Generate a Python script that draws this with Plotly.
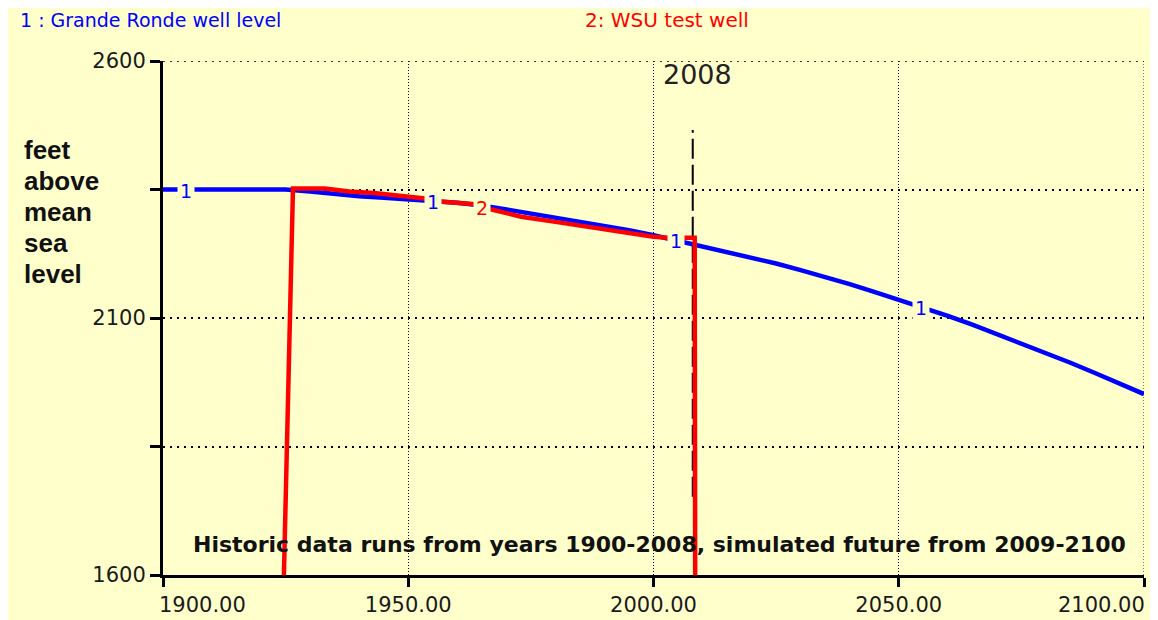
import numpy as np
import plotly.graph_objects as go

BG = "#FFFFCC"
BLUE = "#0000FF"
RED = "#FF0000"

# Series 1: Grande Ronde well level (historic 1900-2008, simulated 2009-2100)
blue_years = [1900, 1905, 1910, 1915, 1920, 1925, 1930, 1935, 1940, 1945, 1950,
              1955, 1960, 1965, 1970, 1975, 1980, 1985, 1990, 1995, 2000, 2005,
              2008, 2010, 2015, 2020, 2025, 2030, 2035, 2040, 2045, 2050, 2055,
              2060, 2065, 2070, 2075, 2080, 2085, 2090, 2095, 2100]
blue_levels = [2350, 2350, 2350, 2350, 2350, 2350, 2346, 2341, 2337, 2334, 2331,
               2327, 2324, 2319, 2311, 2304, 2296, 2288, 2280, 2271, 2261, 2250,
               2245, 2241, 2230, 2218, 2206, 2193, 2180, 2166, 2151, 2136, 2120,
               2104, 2087, 2069, 2051, 2033, 2013, 1993, 1973, 1952]

# Series 2: WSU test well (observed record only)
red_years = [1924.6, 1926.5, 1933, 1938, 1943, 1948, 1953, 1957, 1963, 1967,
             1973, 1980, 1986, 1993, 2000, 2003, 2008.4, 2008.5]
red_levels = [1580, 2352, 2352, 2346, 2343, 2339, 2333, 2326, 2322, 2311,
              2297, 2287, 2278, 2268, 2258, 2256, 2256, 1580]

blue_label_years = [1904.6, 1955.0, 2004.6, 2054.5]
red_label_years = [1965.0]

marker_year = 2008
marker_span = [1752, 2466]

x_range = [1900, 2100]
y_range = [1600, 2600]
x_tickvals = [1900, 1950, 2000, 2050, 2100]
x_ticktext = ["1900.00", "1950.00", "2000.00", "2050.00", "2100.00"]
y_tickvals = [1600, 1850, 2100, 2350, 2600]
y_ticktext = ["1600", "", "2100", "", "2600"]

y_title_lines = ["feet", "above", "mean", "sea", "level"]

FONT = "DejaVu Sans"
BOLD = "Liberation Sans"
TICKFONT = dict(family=FONT, size=21, color="#1a1a1a")

fig = go.Figure()

fig.add_trace(go.Scatter(x=[marker_year, marker_year], y=marker_span, mode="lines",
                         line=dict(color="black", width=2, dash="20px,6px"),
                         hoverinfo="skip", showlegend=False))
fig.add_trace(go.Scatter(x=blue_years, y=blue_levels, mode="lines",
                         line=dict(color=BLUE, width=4.5), name="Grande Ronde well level",
                         showlegend=False))
fig.add_trace(go.Scatter(x=red_years, y=red_levels, mode="lines",
                         line=dict(color=RED, width=4.5), name="WSU test well",
                         showlegend=False))

annotations = []
for yr in blue_label_years:
    annotations.append(dict(x=yr, y=float(np.interp(yr, blue_years, blue_levels)),
                            xref="x", yref="y", text="1", showarrow=False,
                            font=dict(family=FONT, size=19, color=BLUE),
                            bgcolor=BG, borderpad=2, yshift=-1))
for yr in red_label_years:
    annotations.append(dict(x=yr, y=float(np.interp(yr, red_years, red_levels)),
                            xref="x", yref="y", text="2", showarrow=False,
                            font=dict(family=FONT, size=19, color=RED),
                            bgcolor=BG, borderpad=2, yshift=-1))

# end tick labels sit inside the axis extent (left/right aligned to the end ticks)
annotations += [
    dict(text=x_ticktext[0], xref="x", yref="paper", x=x_tickvals[0], xshift=-6,
         y=-0.0584, xanchor="left", yanchor="middle", showarrow=False, font=TICKFONT),
    dict(text=x_ticktext[-1], xref="x", yref="paper", x=x_tickvals[-1], xshift=3,
         y=-0.0584, xanchor="right", yanchor="middle", showarrow=False, font=TICKFONT),
]
axis_ticktext = [""] + x_ticktext[1:-1] + [""]

annotations += [
    dict(text="1 : Grande Ronde well level", xref="paper", yref="paper",
         x=-0.1478, y=1.0798, xanchor="left", yanchor="middle", showarrow=False,
         font=dict(family=FONT, size=19, color=BLUE)),
    dict(text="2: WSU test well", xref="paper", yref="paper",
         x=0.4281, y=1.0798, xanchor="left", yanchor="middle", showarrow=False,
         font=dict(family=FONT, size=20, color=RED)),
    dict(text=str(marker_year), xref="x", yref="paper", x=marker_year, xshift=5,
         y=0.9728, xanchor="center", yanchor="middle", showarrow=False,
         font=dict(family=FONT, size=27, color="#222222")),
    dict(text="<b>Historic data runs from years 1900-2008, simulated future from 2009-2100</b>",
         xref="paper", yref="paper", x=0.5066, y=0.0584, xanchor="center", yanchor="middle",
         showarrow=False, font=dict(family=FONT, size=22, color="#111111")),
]
for i, word in enumerate(y_title_lines):
    annotations.append(dict(text="<b>%s</b>" % word, xref="paper", yref="paper",
                            x=-0.1437, y=0.8268, yshift=-31 * i,
                            xanchor="left", yanchor="middle", showarrow=False,
                            font=dict(family=BOLD, size=26, color="#111111")))

grid_dot_y = dict(color="black", width=1.5, dash="2px,5px")
grid_dot_x = dict(color="black", width=1, dash="1px,2px")
shapes = [
    dict(type="line", xref="x", yref="y", x0=x_range[0], x1=x_range[1],
         y0=y_range[1], y1=y_range[1], line=grid_dot_y, layer="below"),
    dict(type="line", xref="x", yref="y", x0=x_range[1], x1=x_range[1],
         y0=y_range[0], y1=y_range[1], line=grid_dot_x, layer="below"),
]

fig.update_layout(
    width=1144, height=612,
    margin=dict(l=155, r=8, t=53, b=45, autoexpand=False),
    paper_bgcolor=BG, plot_bgcolor=BG,
    showlegend=False,
    annotations=annotations,
    shapes=shapes,
    xaxis=dict(range=x_range, tickvals=x_tickvals, ticktext=axis_ticktext,
               showline=True, linewidth=3, linecolor="black", zeroline=False,
               ticks="outside", ticklen=9, tickwidth=3, tickcolor="black",
               showgrid=True, gridcolor="black", gridwidth=1, griddash="1px,2px",
               automargin=False, tickfont=TICKFONT, fixedrange=True),
    yaxis=dict(range=y_range, tickvals=y_tickvals, ticktext=y_ticktext,
               showline=True, linewidth=3, linecolor="black", zeroline=False,
               ticks="outside", ticklen=10, tickwidth=3, tickcolor="black",
               showgrid=True, gridcolor="black", gridwidth=1.5, griddash="2px,5px",
               automargin=False, tickfont=TICKFONT, fixedrange=True),
)

fig.write_html("out.html")
